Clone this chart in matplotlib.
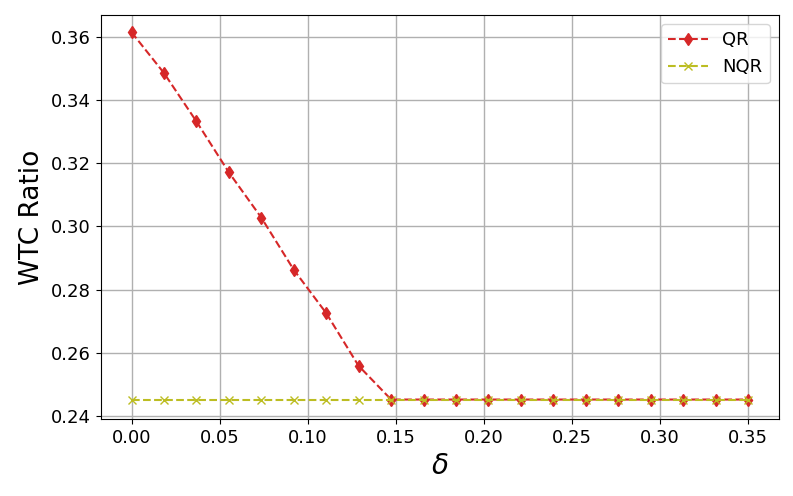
import matplotlib
matplotlib.use("Agg")
import matplotlib.pyplot as plt

delta = [0.0, 0.0184, 0.0368, 0.0553, 0.0737, 0.0921, 0.1105, 0.1289, 0.1474, 0.1658,
         0.1842, 0.2026, 0.2211, 0.2395, 0.2579, 0.2763, 0.2947, 0.3132, 0.3316, 0.35]
qr = [0.3615, 0.3486, 0.3333, 0.3171, 0.3028, 0.2863, 0.2726, 0.2559, 0.2452, 0.2452,
      0.2452, 0.2452, 0.2452, 0.2452, 0.2452, 0.2452, 0.2452, 0.2452, 0.2452, 0.2452]
nqr = [0.2452] * 20

fig = plt.figure(figsize=(7.93, 4.96), dpi=100)
ax = fig.add_axes([0.127, 0.155, 0.855, 0.815])
ax.plot(delta, qr, linestyle='--', marker='d', color='tab:red', label='QR', markersize=6)
ax.plot(delta, nqr, linestyle='--', marker='x', color='tab:olive', label='NQR', markersize=6)
ax.set_xticks([0.0, 0.05, 0.10, 0.15, 0.20, 0.25, 0.30, 0.35])
ax.set_yticks([0.24, 0.26, 0.28, 0.30, 0.32, 0.34, 0.36])
ax.tick_params(labelsize=13)
ax.set_xlabel(r'$\delta$', fontsize=20)
ax.set_ylabel('WTC Ratio', fontsize=19)
ax.grid(True, linewidth=1.0)
ax.set_xlim(-0.0175, 0.3675)
ax.set_ylim(0.2390, 0.3670)
ax.legend(loc='upper right', fontsize=13, handlelength=2.2)
fig.savefig('out.png', dpi=100)
